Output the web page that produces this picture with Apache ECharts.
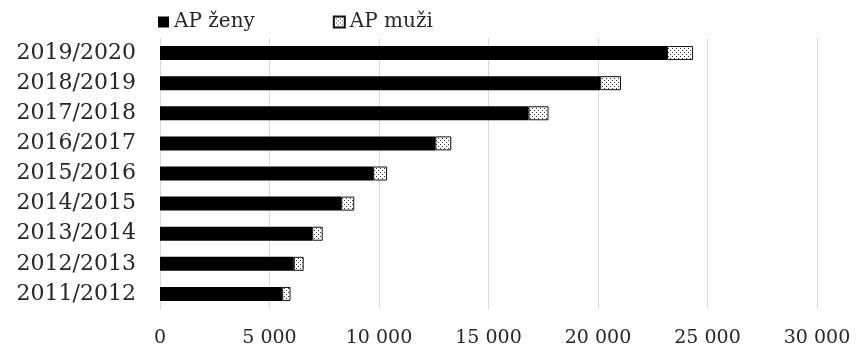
<!DOCTYPE html>
<html>
<head>
<meta charset="utf-8">
<script src="https://cdn.jsdelivr.net/npm/echarts@6/dist/echarts.min.js"></script>
<style>
  html, body { margin: 0; padding: 0; background: #fff; }
  #chart { width: 857px; height: 353px; }
</style>
</head>
<body>
<div id="chart"></div>
<script>
// školní roky (od spodu nahoru)
const years = ['2011/2012', '2012/2013', '2013/2014', '2014/2015', '2015/2016',
               '2016/2017', '2017/2018', '2018/2019', '2019/2020'];
const apZeny = [5580, 6110, 6950, 8270, 9730, 12570, 16830, 20100, 23150];
const apMuzi = [380, 450, 480, 600, 640, 730, 910, 950, 1190];
const xTicks = [0, 5000, 10000, 15000, 20000, 25000, 30000];

// vzorek pro muže - světlé pole s tmavými tečkami
const tile = document.createElement('canvas');
tile.width = 4;
tile.height = 4;
const tctx = tile.getContext('2d');
tctx.fillStyle = '#fff';
tctx.fillRect(0, 0, 4, 4);
tctx.fillStyle = '#333';
tctx.fillRect(0, 0, 1, 1);
tctx.fillRect(2, 2, 1, 1);

const font = 'DejaVu Serif';
const fmt = v => String(v).replace(/\B(?=(\d{3})+(?!\d))/g, ' ');

const chart = echarts.init(document.getElementById('chart'));
chart.setOption({
  backgroundColor: '#fff',
  animation: false,
  legend: {
    left: 153,
    top: 7,
    itemWidth: 11,
    itemHeight: 11,
    itemGap: 78,
    icon: 'rect',
    textStyle: { fontFamily: font, fontSize: 20, color: '#262626' },
    data: ['AP ženy', 'AP muži']
  },
  grid: { left: 160, right: 40, top: 38, bottom: 44 },
  xAxis: {
    type: 'value',
    min: 0,
    max: xTicks[xTicks.length - 1],
    interval: 5000,
    axisLine: { show: false },
    axisTick: { show: false },
    splitLine: { show: true, lineStyle: { color: '#d9d9d9', width: 1 } },
    axisLabel: {
      margin: 20,
      fontFamily: font,
      fontSize: 19,
      color: '#262626',
      formatter: fmt
    }
  },
  yAxis: {
    type: 'category',
    data: years,
    axisLine: { show: false },
    axisTick: { show: false },
    axisLabel: { margin: 24, fontFamily: font, fontSize: 22, color: '#262626' }
  },
  series: [
    {
      name: 'AP ženy',
      type: 'bar',
      stack: 'total',
      barWidth: 14,
      itemStyle: { color: '#000' },
      data: apZeny
    },
    {
      name: 'AP muži',
      type: 'bar',
      stack: 'total',
      barWidth: 14,
      itemStyle: {
        color: { image: tile, repeat: 'repeat' },
        borderColor: '#111',
        borderWidth: 1
      },
      data: apMuzi
    }
  ]
});
</script>
</body>
</html>
